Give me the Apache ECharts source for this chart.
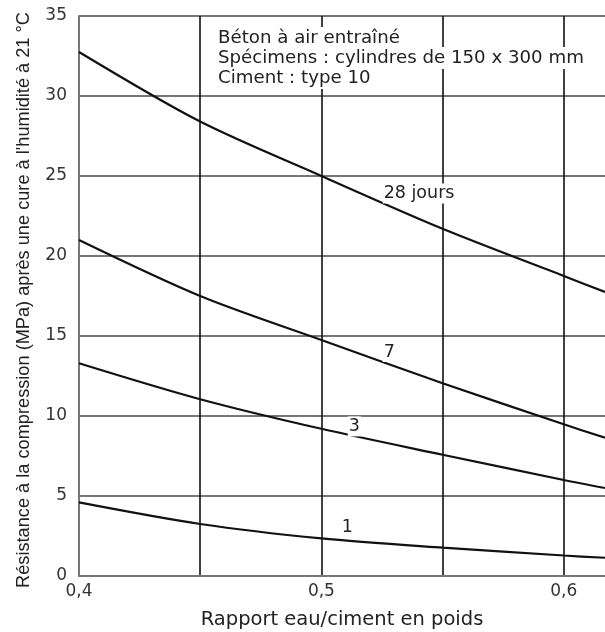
<!DOCTYPE html>
<html>
<head>
<meta charset="utf-8">
<script src="https://cdn.jsdelivr.net/npm/echarts@6/dist/echarts.min.js"></script>
<style>
  html, body { margin: 0; padding: 0; background: #fff; }
  #chart-container { width: 605px; height: 632px; }
</style>
</head>
<body>
<div id="chart-container"></div>
<script>
// water/cement ratio sample points (last one is the right edge of the plot)
const ratios = [0.4, 0.45, 0.5, 0.55, 0.6, 0.617];

// compressive strength (MPa) per curing age
const day1 = [4.6, 3.25, 2.35, 1.77, 1.28, 1.14];
const day3 = [13.3, 11.05, 9.2, 7.58, 6.0, 5.5];
const day7 = [21.0, 17.5, 14.75, 12.05, 9.48, 8.64];
const day28 = [32.75, 28.4, 25.0, 21.7, 18.75, 17.75];

const curveNames = ['1', '3', '7', '28 jours'];
const noteLines = [
    'Béton à air entraîné',
    'Spécimens : cylindres de 150 x 300 mm',
    'Ciment : type 10'
];

const chartDom = document.getElementById('chart-container');
const myChart = echarts.init(chartDom);

const textFont = 'DejaVu Sans';

const pairs = (ys) => ratios.map((x, i) => [x, ys[i]]);

// curve label anchors in data space
const labelSpots = [
    [0.5107, 3.05],
    [0.5136, 9.35],
    [0.528, 14.0],
    [0.5403, 23.9]
];

const makeSeries = (name, ys, idx) => ({
    name: name,
    type: 'line',
    data: pairs(ys),
    smooth: 0.3,
    symbol: 'none',
    lineStyle: { color: '#111', width: 2.2 },
    markPoint: {
        symbol: 'circle',
        symbolSize: 0,
        silent: true,
        data: [{ coord: labelSpots[idx] }],
        label: {
            show: true,
            formatter: name,
            position: 'inside',
            color: '#222',
            fontFamily: textFont,
            fontSize: 17.5,
            backgroundColor: '#fff',
            padding: [1, 1]
        }
    }
});

const option = {
    backgroundColor: '#fff',
    animation: false,
    grid: { left: 79, right: 0, top: 16, bottom: 56, outerBoundsMode: 'none' },
    xAxis: {
        type: 'value',
        min: 0.4,
        max: 0.617,
        interval: 0.05,
        name: 'Rapport eau/ciment en poids',
        nameLocation: 'middle',
        nameGap: 34,
        nameTextStyle: { fontFamily: textFont, fontSize: 19.5, color: '#222' },
        axisLine: { lineStyle: { color: '#777', width: 2 } },
        axisTick: { show: false },
        axisLabel: {
            fontFamily: textFont,
            fontSize: 17,
            color: '#333',
            margin: 7,
            showMaxLabel: false,
            formatter: (v) => {
                const t = v * 10;
                if (Math.abs(t - Math.round(t)) > 1e-6) return '';
                return (Math.round(t) / 10).toFixed(1).replace('.', ',');
            }
        },
        splitLine: { show: true, showMaxLine: false, lineStyle: { color: '#111', width: 1.6 } }
    },
    yAxis: {
        type: 'value',
        min: 0,
        max: 35,
        interval: 5,
        axisLine: { show: true, lineStyle: { color: '#777', width: 2 } },
        axisTick: { show: false },
        axisLabel: { fontFamily: textFont, fontSize: 17, color: '#333', margin: 12 },
        splitLine: { show: true, lineStyle: { color: '#777', width: 1.8 } }
    },
    graphic: [
        {
            type: 'text',
            x: 24,
            y: 300,
            rotation: Math.PI / 2,
            style: {
                text: 'Résistance à la compression (MPa) après une cure à l\'humidité à 21 °C',
                fontFamily: 'Liberation Sans',
                fontSize: 18.2,
                fill: '#222',
                align: 'center',
                verticalAlign: 'middle'
            }
        },
        ...noteLines.map((t, i) => ({
            type: 'text',
            left: 215,
            top: 27 + i * 20,
            z: 10,
            style: {
                text: t,
                fontFamily: textFont,
                fontSize: 18.2,
                fill: '#222',
                backgroundColor: '#fff',
                padding: [2, 3]
            }
        }))
    ],
    series: [
        makeSeries(curveNames[0], day1, 0),
        makeSeries(curveNames[1], day3, 1),
        makeSeries(curveNames[2], day7, 2),
        makeSeries(curveNames[3], day28, 3)
    ]
};

myChart.setOption(option);
</script>
</body>
</html>
